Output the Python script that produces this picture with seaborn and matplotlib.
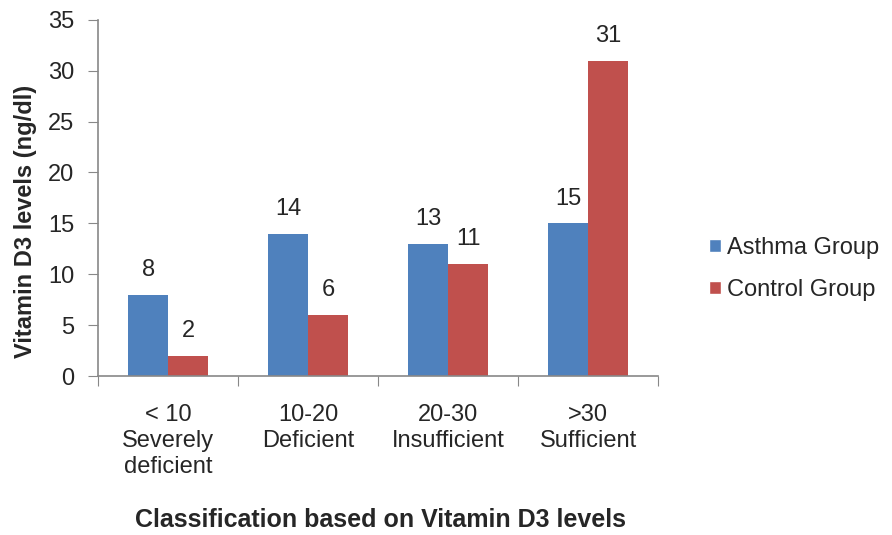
import matplotlib
matplotlib.use("Agg")
import matplotlib.pyplot as plt
import seaborn as sns
import pandas as pd
from matplotlib.patches import Patch

# data
categories = ["< 10\nSeverely\ndeficient", "10-20\nDeficient", "20-30\nInsufficient", ">30\nSufficient"]
asthma = [8, 14, 13, 15]
control = [2, 6, 11, 31]
groups = ["Asthma Group", "Control Group"]
colors = ["#4F81BD", "#C0504D"]

df = pd.DataFrame({
    "category": categories * 2,
    "value": asthma + control,
    "group": [groups[0]] * 4 + [groups[1]] * 4,
})

sns.set_style("white")
plt.rcParams["font.family"] = ["Liberation Sans", "DejaVu Sans"]

fig = plt.figure(figsize=(8.92, 5.35), dpi=100)
ax = fig.add_axes([0.11, 0.297, 0.6277, 0.666])

sns.barplot(data=df, x="category", y="value", hue="group", palette=colors,
            width=0.57, gap=0, saturation=1, linewidth=0, ax=ax, legend=False)

for c in ax.containers:
    ax.bar_label(c, padding=10, fontsize=17)

ax.set_ylim(0, 35)
ax.set_yticks(range(0, 36, 5))
ax.set_xlim(-0.5, 3.5)

# boundary ticks on x, labels at category centers
ax.set_xticks([-0.5, 0.5, 1.5, 2.5, 3.5])
ax.set_xticklabels([])
ax.set_xticks([0, 1, 2, 3], minor=True)
ax.set_xticklabels(categories, minor=True, fontsize=17, linespacing=1.25)
ax.tick_params(axis="x", which="minor", length=0, pad=20)
ax.tick_params(axis="x", which="major", length=7, color="#888888", direction="out")
ax.tick_params(axis="y", length=7, color="#888888", direction="out", labelsize=17, pad=10)
ax.yaxis.set_ticks_position("left")
ax.xaxis.set_ticks_position("bottom")

for s in ["top", "right"]:
    ax.spines[s].set_visible(False)
for s in ["left", "bottom"]:
    ax.spines[s].set_color("#888888")
    ax.spines[s].set_linewidth(1.2)

ax.set_ylabel("Vitamin D3 levels (ng/dl)", fontsize=17, fontweight="bold")
ax.yaxis.set_label_coords(-0.11, 0.435)
ax.set_xlabel("")
fig.text(0.427, 0.028, "Classification based on Vitamin D3 levels",
         ha="center", va="center", fontsize=18, fontweight="bold")

handles = [Patch(facecolor=col, label=g) for col, g in zip(colors, groups)]
fig.legend(handles=handles, loc="center left", bbox_to_anchor=(0.771, 0.497),
           frameon=False, fontsize=17, handlelength=0.5, handleheight=0.5,
           handletextpad=0.25, labelspacing=0.85)

fig.savefig("out.png", dpi=100)
